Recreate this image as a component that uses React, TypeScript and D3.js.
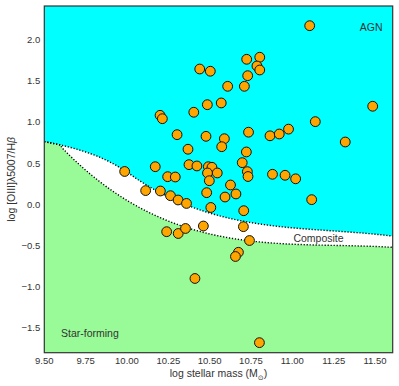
import * as d3 from "d3";
import React from "react";

// stellar mass (log) and log [OIII]/Hbeta of each galaxy
const massValues = [
  11.105, 10.44, 10.504, 10.724, 10.803, 10.786, 10.803, 10.73, 10.609, 10.71,
  10.486, 10.57, 10.404, 10.2, 10.214, 11.486, 11.139, 10.303, 10.478, 10.589,
  10.573, 10.369, 10.171, 10.375, 10.423, 10.492, 10.514, 10.546, 10.487, 10.498,
  9.986, 10.246, 10.292, 10.626, 10.482, 10.113, 10.202, 10.263, 10.309, 10.36,
  10.593, 10.659, 10.507, 10.735, 10.865, 10.921, 10.977, 11.32, 10.722, 10.697,
  10.728, 10.732, 10.88, 10.956, 11.02, 11.117, 10.706, 10.24, 10.31, 10.354,
  10.462, 10.704, 10.741, 10.674, 10.656, 10.411, 10.801,
];
const o3hbValues = [
  2.173, 1.647, 1.62, 1.765, 1.79, 1.684, 1.635, 1.566, 1.437, 1.437,
  1.214, 1.235, 1.122, 1.085, 1.044, 1.195, 1.008, 0.85, 0.83, 0.801,
  0.704, 0.673, 0.461, 0.486, 0.47, 0.461, 0.454, 0.385, 0.385, 0.291,
  0.403, 0.34, 0.336, 0.239, 0.146, 0.171, 0.166, 0.109, 0.057, 0.015,
  0.093, 0.13, -0.034, 0.88, 0.836, 0.858, 0.917, 0.761, 0.64, 0.51,
  0.401, 0.342, 0.369, 0.357, 0.314, 0.061, -0.073, -0.328, -0.35, -0.289,
  -0.259, -0.267, -0.435, -0.578, -0.629, -0.896, -1.675,
];

// MEx demarcation (Juneau et al. 2014): hyperbola + cubic pieces
const hyperbola = [0.375, 10.5, 1.14];
const upperCubic = [410.24, -109.333, 9.71731, -0.288244];
const lowerCubic = [352.066, -93.8249, 8.32651, -0.246416];
const upperBreak = 10.0;
const lowerBreak = 9.6;

const xTicks = [9.5, 9.75, 10.0, 10.25, 10.5, 10.75, 11.0, 11.25, 11.5];
const yTicks = [-1.5, -1.0, -0.5, 0.0, 0.5, 1.0, 1.5, 2.0];

const width = 399;
const height = 386;
const margin = { top: 6, right: 6.3, bottom: 33.3, left: 44.3 };
const font = "'Liberation Sans', Arial, sans-serif";
const textColor = "#333";

const hyp = (x: number) => hyperbola[0] / (x - hyperbola[1]) + hyperbola[2];
const cubic = (c: number[], x: number) => c[0] + c[1] * x + c[2] * x * x + c[3] * x * x * x;
const upperLine = (x: number) => (x <= upperBreak ? hyp(x) : cubic(upperCubic, x));
const lowerLine = (x: number) => (x <= lowerBreak ? hyp(x) : cubic(lowerCubic, x));

export default function App() {
  const x = d3.scaleLinear([9.5, 11.607], [margin.left, width - margin.right]);
  const y = d3.scaleLinear([-1.797, 2.412], [height - margin.bottom, margin.top]);

  const xs = d3.range(9.5, 11.612, 0.005);
  const upperPts: [number, number][] = xs.map((v) => [v, upperLine(v)]);
  const lowerPts: [number, number][] = xs.map((v) => [v, lowerLine(v)]);

  const line = d3.line<[number, number]>().x((d) => x(d[0])).y((d) => y(d[1]));
  const areaBelow = d3
    .area<[number, number]>()
    .x((d) => x(d[0]))
    .y0(height - margin.bottom)
    .y1((d) => y(d[1]));

  const fmtX = d3.format(".2f");
  const fmtY = d3.format(".1f");
  const [x0, x1] = x.range();
  const [yb, yt] = y.range();
  const midY = (yb + yt) / 2;
  const midX = (x0 + x1) / 2;

  return (
    <svg
      width={width}
      height={height}
      style={{ position: "absolute", left: 0, top: 0, display: "block" }}
      fontFamily={font}
    >
      <defs>
        <clipPath id="plotClip">
          <rect x={x0} y={yt} width={x1 - x0} height={yb - yt} />
        </clipPath>
      </defs>
      <rect x={0} y={0} width={width} height={height} fill="#fff" />
      <g clipPath="url(#plotClip)">
        <rect x={x0} y={yt} width={x1 - x0} height={yb - yt} fill="#00ffff" />
        <path d={areaBelow(upperPts) || ""} fill="#ffffff" />
        <path d={areaBelow(lowerPts) || ""} fill="#98fb98" />
        <path d={line(upperPts) || ""} fill="none" stroke="#000" strokeWidth={1.4} strokeDasharray="1.2,1.8" />
        <path d={line(lowerPts) || ""} fill="none" stroke="#000" strokeWidth={1.4} strokeDasharray="1.2,1.8" />
        {massValues.map((m, i) => (
          <circle key={i} cx={x(m)} cy={y(o3hbValues[i])} r={4.9} fill="#ffa500" stroke="#111" strokeWidth={1} />
        ))}
      </g>
      <rect x={x0} y={yt} width={x1 - x0} height={yb - yt} fill="none" stroke="#333" strokeWidth={1.2} />

      {xTicks.map((t) => (
        <text key={t} x={x(t)} y={yb + 11} textAnchor="middle" fontSize={9.5} fill={textColor}>
          {fmtX(t)}
        </text>
      ))}
      {yTicks.map((t) => (
        <text key={t} x={x0 - 4} y={y(t)} dy="0.33em" textAnchor="end" fontSize={9.5} fill={textColor}>
          {fmtY(t)}
        </text>
      ))}

      <text x={midX} y={377} textAnchor="middle" fontSize={10.5} fill={textColor}>
        log stellar mass (M
        <tspan fontSize={7} dy={2.5} fontFamily="'DejaVu Sans', sans-serif">⊙</tspan>
        <tspan dy={-2.5}>)</tspan>
      </text>
      <text
        transform={`translate(15,${midY}) rotate(-90)`}
        textAnchor="middle"
        fontSize={10.5}
        fill={textColor}
      >
        log [OIII]λ5007/H<tspan fontStyle="italic">β</tspan>
      </text>

      <text x={382.5} y={30.5} textAnchor="end" fontSize={10.5} fill={textColor}>AGN</text>
      <text x={318.5} y={242} textAnchor="middle" fontSize={10.5} fill={textColor}>Composite</text>
      <text x={61} y={336.5} textAnchor="start" fontSize={10.5} fill={textColor}>Star-forming</text>
    </svg>
  );
}
